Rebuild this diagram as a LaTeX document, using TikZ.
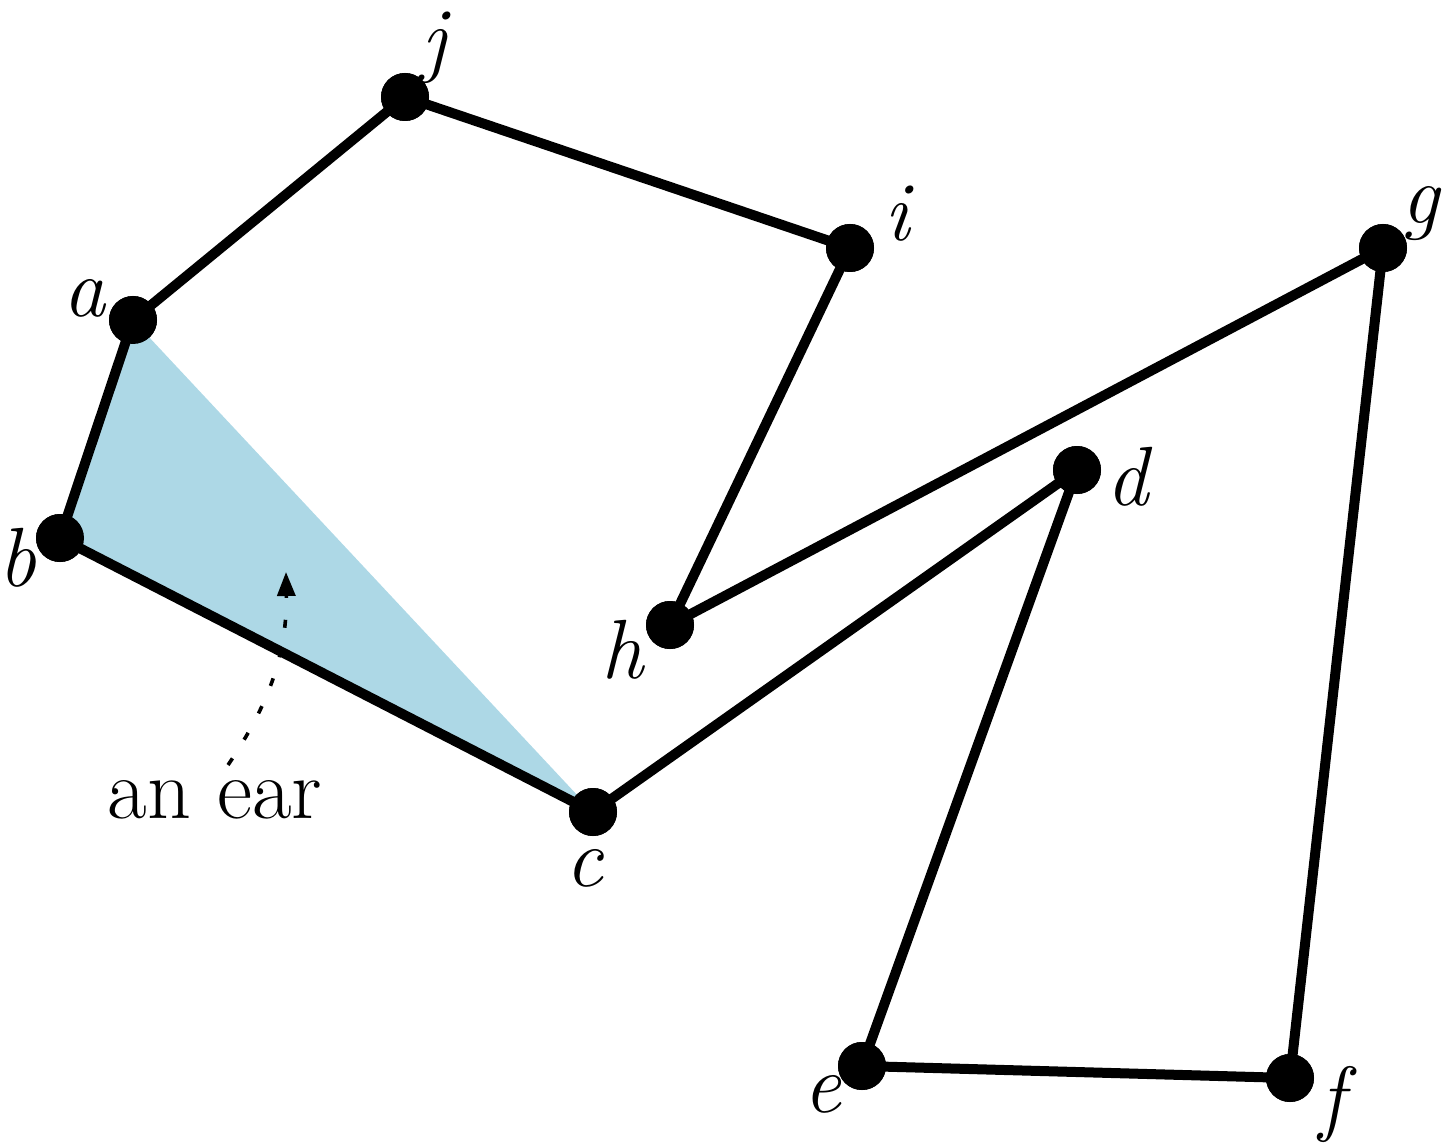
\documentclass[tikz,border=0pt]{standalone}
\usepackage{amsmath,amssymb}
\usepackage{xcolor}
\usepackage{tikz}
\usetikzlibrary{calc,arrows.meta,positioning}
\definecolor{earBlue}{RGB}{173,216,230}
\definecolor{polyBlack}{RGB}{0,0,0}

\begin{document}
\begin{tikzpicture}[x=0.5pt,y=-0.5pt,
    vertex/.style={circle, fill=polyBlack, inner sep=0pt, minimum size=24pt},
    edge/.style={polyBlack, line width=5pt},
    vlabel/.style={font=\fontsize{42}{44}\selectfont\itshape, inner sep=0pt},
    earlabel/.style={font=\fontsize{43}{45}\selectfont, inner sep=0pt}]
    \useasboundingbox (0,0) rectangle (1455,1144);

    % vertices of the polygon
    \node[vertex] (a) at (133,320) {};
    \node[vertex] (b) at (60,538) {};
    \node[vertex] (c) at (593,812) {};
    \node[vertex] (d) at (1077,470) {};
    \node[vertex] (e) at (862,1066) {};
    \node[vertex] (f) at (1290,1078) {};
    \node[vertex] (g) at (1383,248) {};
    \node[vertex] (h) at (670,625) {};
    \node[vertex] (i) at (850,248) {};
    \node[vertex] (j) at (405,97) {};

    % the ear a-b-c
    \fill[earBlue] (a.center) -- (b.center) -- (c.center) -- cycle;

    % boundary
    \draw[edge, line join=round] (a.center) -- (j.center) -- (i.center) -- (h.center)
        -- (g.center) -- (f.center) -- (e.center) -- (d.center) -- (c.center)
        -- (b.center) -- cycle;
    \foreach \v in {a,b,c,d,e,f,g,h,i,j}
        \fill[polyBlack] (\v) circle (12pt);

    % labels
    \node[vlabel] at (434,48) {j};
    \node[vlabel] at (897,214) {i};
    \node[vlabel] at (1420,214) {g};
    \node[vlabel] at (84,298) {a};
    \node[vlabel] at (17,558) {b};
    \node[vlabel] at (622,650) {h};
    \node[vlabel] at (1127,477) {d};
    \node[vlabel] at (584,868) {c};
    \node[vlabel] at (822,1094) {e};
    \node[vlabel] at (1332,1104) {f};

    % pointer to the ear
    \node[earlabel] (ear) at (215,800) {an ear};
    \coordinate (start) at (228,765);
    \coordinate (tip) at (286,572);
    \draw[line width=1.8pt, dash pattern=on 4pt off 11pt, -{Triangle[length=12pt,width=9pt]}]
        (start) .. controls (272,700) and (287,650) .. (tip);
\end{tikzpicture}
\end{document}
